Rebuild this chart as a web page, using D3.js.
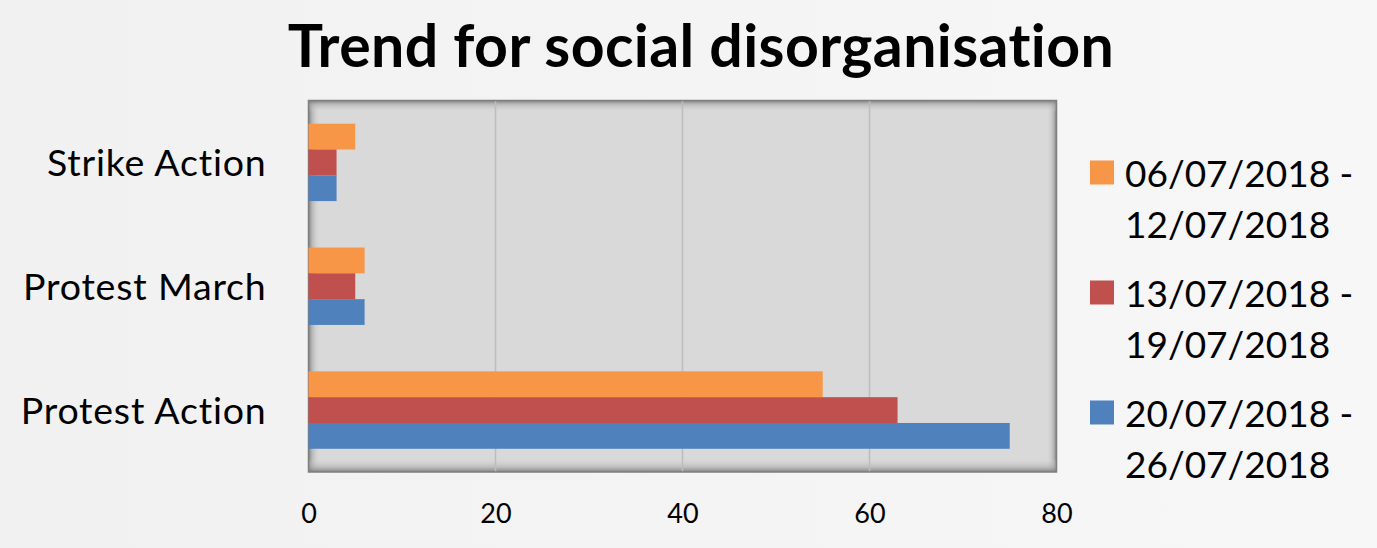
<!DOCTYPE html>
<html>
<head>
<meta charset="utf-8">
<script src="https://cdn.jsdelivr.net/npm/d3@7"></script>
<style>
  html, body { margin: 0; padding: 0; background: #f2f2f2; }
  svg { display: block; font-family: Lato, "Open Sans", sans-serif; font-variant-ligatures: none; }
</style>
</head>
<body>
<svg id="chart"></svg>
<script>
// --- data ---
const categories = ["Strike Action", "Protest March", "Protest Action"];
const seriesNames = ["06/07/2018 - 12/07/2018", "13/07/2018 - 19/07/2018", "20/07/2018 - 26/07/2018"];
const seriesLines = [["06/07/2018 -", "12/07/2018"], ["13/07/2018 -", "19/07/2018"], ["20/07/2018 -", "26/07/2018"]];
const seriesColors = ["#F79646", "#C0504D", "#4F81BD"];
// values per series, in category order
const week1 = [5, 6, 55];
const week2 = [3, 5, 63];
const week3 = [3, 6, 75];
const xTicks = [0, 20, 40, 60, 80];
const chartTitle = "Trend for social disorganisation";

const seriesValues = [week1, week2, week3];

const W = 1377, H = 548;
const plot = {left: 308.5, right: 1056.5, top: 100.5, bottom: 472};

const svg = d3.select("#chart").attr("width", W).attr("height", H);
const defs = svg.append("defs");

// page background, a bit lighter on the right
const bg = defs.append("linearGradient").attr("id", "bg").attr("x1", 0).attr("x2", 1).attr("y1", 0).attr("y2", 0);
bg.append("stop").attr("offset", 0).attr("stop-color", "#f1f1f1");
bg.append("stop").attr("offset", 1).attr("stop-color", "#f7f7f7");
svg.append("rect").attr("width", W).attr("height", H).attr("fill", "url(#bg)");

// edge shading of the plot box
function edgeGrad(id, x1, y1, x2, y2) {
  const g = defs.append("linearGradient").attr("id", id)
    .attr("x1", x1).attr("y1", y1).attr("x2", x2).attr("y2", y2);
  g.append("stop").attr("offset", 0).attr("stop-color", "#777").attr("stop-opacity", 0.9);
  g.append("stop").attr("offset", 0.35).attr("stop-color", "#a5a5a5").attr("stop-opacity", 0.55);
  g.append("stop").attr("offset", 1).attr("stop-color", "#d9d9d9").attr("stop-opacity", 0);
}
edgeGrad("shL", 0, 0, 1, 0);
edgeGrad("shR", 1, 0, 0, 0);
edgeGrad("shT", 0, 0, 0, 1);
edgeGrad("shB", 0, 1, 0, 0);

const x = d3.scaleLinear().domain([0, 80]).range([plot.left, plot.right]);
const y = d3.scaleBand().domain(categories).range([plot.top, plot.bottom])
  .paddingInner(0.375).paddingOuter(0.1875);
const ySub = d3.scaleBand().domain(d3.range(seriesNames.length)).range([0, y.bandwidth()]);

const pw = plot.right - plot.left, ph = plot.bottom - plot.top;
svg.append("rect").attr("x", plot.left).attr("y", plot.top).attr("width", pw).attr("height", ph)
  .attr("fill", "#d9d9d9");
svg.append("rect").attr("x", plot.left).attr("y", plot.top).attr("width", 12).attr("height", ph).attr("fill", "url(#shL)");
svg.append("rect").attr("x", plot.right - 10).attr("y", plot.top).attr("width", 10).attr("height", ph).attr("fill", "url(#shR)");
svg.append("rect").attr("x", plot.left).attr("y", plot.top).attr("width", pw).attr("height", 12).attr("fill", "url(#shT)");
svg.append("rect").attr("x", plot.left).attr("y", plot.bottom - 14).attr("width", pw).attr("height", 14).attr("fill", "url(#shB)");

// gridlines
svg.append("g").selectAll("line")
  .data(xTicks.filter(t => t > 0 && t < 80))
  .join("line")
  .attr("x1", d => x(d)).attr("x2", d => x(d))
  .attr("y1", plot.top).attr("y2", plot.bottom)
  .attr("stroke", "#bdbdbd").attr("stroke-width", 1.5);

// plot border
svg.append("rect").attr("x", plot.left).attr("y", plot.top).attr("width", pw).attr("height", ph)
  .attr("fill", "none").attr("stroke", "#7f7f7f").attr("stroke-width", 1.5);

// bars
const barData = [];
categories.forEach((c, ci) => {
  seriesValues.forEach((vals, si) => {
    barData.push({category: c, series: si, value: vals[ci]});
  });
});
svg.append("g").selectAll("rect")
  .data(barData)
  .join("rect")
  .attr("x", x(0))
  .attr("y", d => y(d.category) + ySub(d.series))
  .attr("width", d => x(d.value) - x(0))
  .attr("height", ySub.bandwidth())
  .attr("fill", d => seriesColors[d.series]);

// y axis labels
const yAxis = svg.append("g")
  .attr("transform", `translate(${plot.left},0)`)
  .call(d3.axisLeft(y).tickSize(0).tickPadding(42));
yAxis.select(".domain").remove();
yAxis.selectAll("text")
  .attr("font-family", "Lato, 'Open Sans', sans-serif")
  .attr("font-size", 37.5).attr("letter-spacing", 0.8)
  .attr("fill", "#000").attr("dy", "0.36em");

// x axis labels
const xAxis = svg.append("g")
  .attr("transform", `translate(0,${plot.bottom})`)
  .call(d3.axisBottom(x).tickValues(xTicks).tickSize(0));
xAxis.select(".domain").remove();
xAxis.selectAll("text")
  .attr("font-family", "Lato, 'Open Sans', sans-serif")
  .attr("font-size", 27).attr("fill", "#000").attr("y", 50.5).attr("dy", 0);

// title
svg.append("text")
  .attr("x", 701).attr("y", 67)
  .attr("text-anchor", "middle")
  .attr("font-weight", "bold").attr("font-size", 59).attr("letter-spacing", 0.4)
  .attr("fill", "#000")
  .text(chartTitle);

// legend
const legend = svg.append("g");
const entry = legend.selectAll("g")
  .data(seriesNames.map((n, i) => ({name: n, lines: seriesLines[i], color: seriesColors[i], i})))
  .join("g")
  .attr("transform", d => `translate(1090,${160.5 + d.i * 120})`);
entry.append("rect").attr("width", 24).attr("height", 24).attr("fill", d => d.color);
entry.append("text")
  .attr("font-size", 37).attr("fill", "#000")
  .selectAll("tspan")
  .data(d => d.lines)
  .join("tspan")
  .attr("x", 35)
  .attr("y", (d, i) => 26 + i * 51.5)
  .text(d => d);
</script>
</body>
</html>
